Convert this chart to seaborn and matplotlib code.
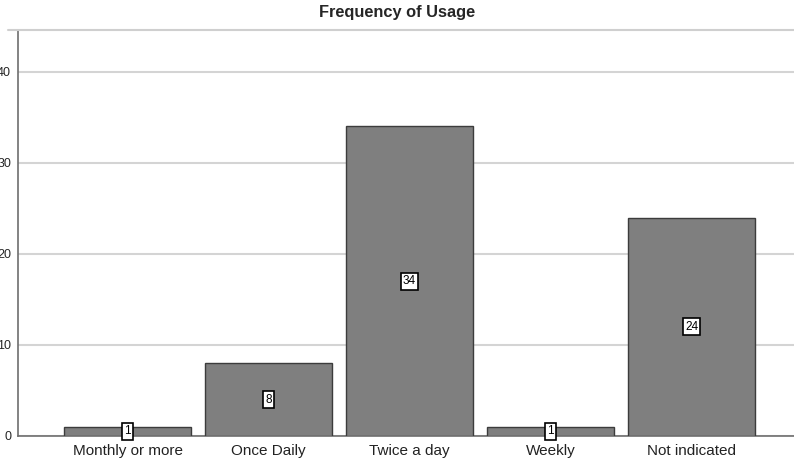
import matplotlib
matplotlib.use("Agg")
import matplotlib.pyplot as plt
from matplotlib.lines import Line2D
import seaborn as sns
import pandas as pd

categories = ["Monthly or more", "Once Daily", "Twice a day", "Weekly", "Not indicated"]
counts = [1, 8, 34, 1, 24]
yticks = [0, 10, 20, 30, 40]
title = "Frequency of Usage"

sns.set_theme(style="white")
plt.rcParams['font.family'] = ['Liberation Sans', 'DejaVu Sans']

df = pd.DataFrame({"category": categories, "count": counts})

fig = plt.figure(figsize=(7.94, 4.62), dpi=100)
W, H = 794, 462
ax = fig.add_axes([18 / W, (H - 436) / H, (W - 18) / W, (436 - 30) / H])

sns.barplot(data=df, x="category", y="count", color="#7f7f7f", saturation=1,
            edgecolor="#3c3c3c", linewidth=1.0, width=0.9, ax=ax, zorder=3)

ax.set_xlim(-0.777, 4.727)
ax.set_ylim(0, 44.6)
ax.set_yticks(yticks)
ax.set_yticklabels([str(v) for v in yticks], fontsize=9)
ax.yaxis.grid(True, color="#d4d4d4", linewidth=1.5, zorder=0)
ax.set_axisbelow(True)
ax.set_xlabel("")
ax.set_ylabel("")
ax.tick_params(axis="y", length=0, pad=5)
ax.tick_params(axis="x", length=0, pad=6, labelsize=11, labelcolor="#222222")
for s in ["top", "right"]:
    ax.spines[s].set_visible(False)
ax.spines["left"].set_color("#6e6e6e")
ax.spines["bottom"].set_color("#6e6e6e")
ax.spines["left"].set_linewidth(1.2)
ax.spines["bottom"].set_linewidth(1.2)

cont = ax.containers[0]
ax.bar_label(cont, labels=[str(v) for v in counts], label_type="center", fontsize=8.5,
             color="black", zorder=5,
             bbox=dict(boxstyle="square,pad=0.2", facecolor="white", edgecolor="black", linewidth=1.2))

fig.add_artist(Line2D([8 / W, 1], [(H - 30) / H, (H - 30) / H], color="#cfcfcf", linewidth=1.5))
fig.text(0.5, (H - 12) / H, title, ha="center", va="center", fontsize=11.8, fontweight="bold")

fig.savefig("out.png", dpi=100)
